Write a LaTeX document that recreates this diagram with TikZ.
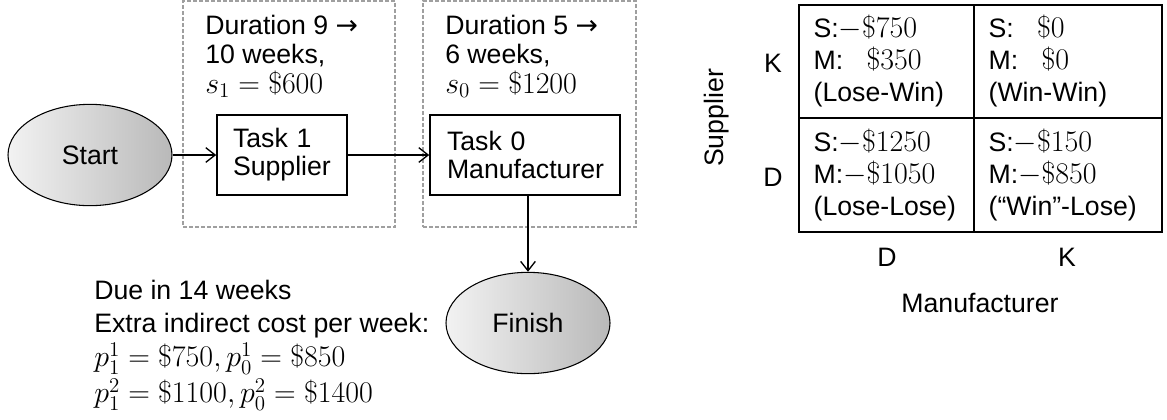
\RequirePackage{fix-cm}
\documentclass[tikz,border=0pt]{standalone}
\usepackage{fontspec}
\setmainfont{Liberation Sans}
\newfontfamily\arrowfont{DejaVu Sans}
\newcommand\mth[1]{{\fontsize{22.5}{21}\selectfont$#1$}}
\usetikzlibrary{arrows.meta,shapes.geometric}

\begin{document}
\begin{tikzpicture}[x=0.75pt,y=-0.75pt,>={Straight Barb[length=7pt,width=11pt]},
  every node/.style={font=\fontsize{20}{21}\selectfont},
  endpoint/.style={ellipse,draw,line width=0.8pt,left color=gray!10,right color=gray!55,minimum width=123pt,minimum height=76pt},
  taskbox/.style={draw,line width=1.2pt,align=left,inner xsep=12pt,minimum height=60pt},
  phasebox/.style={draw=gray!75,dash pattern=on 3pt off 1.5pt,line width=0.9pt,minimum width=159pt,minimum height=169.5pt},
  phasetext/.style={anchor=north west,inner sep=0,align=left,font=\fontsize{20}{22}\selectfont},
  cell/.style={draw,line width=1.3pt,align=left,inner xsep=11pt,font=\fontsize{20}{24}\selectfont},
  flow/.style={->,line width=1pt}]
  \useasboundingbox (0,0) rectangle (1167,419);
  \node[phasebox] (phase1) at (289,114) {};
  \node[phasebox,minimum width=159.75pt] (phase2) at (529.5,114) {};
  \node[phasetext] (dur1) at (205,15) {Duration 9 {\arrowfont →}\\10 weeks,\\\mth{s_1=\$600}};
  \node[phasetext] (dur0) at (445,15) {Duration 5 {\arrowfont →}\\6 weeks,\\\mth{s_0=\$1200}};
  \node[endpoint] (start) at (90,155) {Start};
  \node[taskbox,text width=73.5pt] (task1) at (282,155) {Task 1\\Supplier};
  \node[taskbox,text width=117pt,inner xsep=12.75pt] (task0) at (525,155) {Task 0\\Manufacturer};
  \node[endpoint] (finish) at (528,323) {Finish};
  \node[anchor=north west,inner sep=0,align=left,font=\fontsize{20}{24.5}\selectfont] (due) at (94,280) {Due in 14 weeks\\Extra indirect cost per week:\\[1.5pt]\mth{p_1^1=\$750, p_0^1=\$850}\\[2.5pt]\mth{p_1^2=\$1100, p_0^2=\$1400}};
  \draw[flow] (start) -- (task1);
  \draw[flow] (task1) -- (task0);
  \draw[flow] (task0.south -| finish) -- (finish);
  \node[cell,text width=109.25pt,minimum height=84.75pt] (kd) at (886.5,61.5) {S:\mth{-\$750}\\M:\mth{\phantom{-}\$350}\\(Lose-Win)};
  \node[cell,text width=119pt,minimum height=84.75pt] (kk) at (1068,61.5) {S:\mth{\phantom{-}\$0}\\M:\mth{\phantom{-}\$0}\\(Win-Win)};
  \node[cell,text width=109.25pt,minimum height=85.5pt] (dd) at (886.5,175) {S:\mth{-\$1250}\\M:\mth{-\$1050}\\(Lose-Lose)};
  \node[cell,text width=119pt,minimum height=85.5pt] (dk) at (1068,175) {S:\mth{-\$150}\\M:\mth{-\$850}\\(“Win”-Lose)};
  \node (rowk) at (773,63) {K};
  \node (rowd) at (773,177) {D};
  \node (cold) at (887,257) {D};
  \node (colk) at (1067,257) {K};
  \node (manuf) at (980,303) {Manufacturer};
  \node[rotate=90] (suppl) at (717,118) {Supplier};
\end{tikzpicture}
\end{document}
